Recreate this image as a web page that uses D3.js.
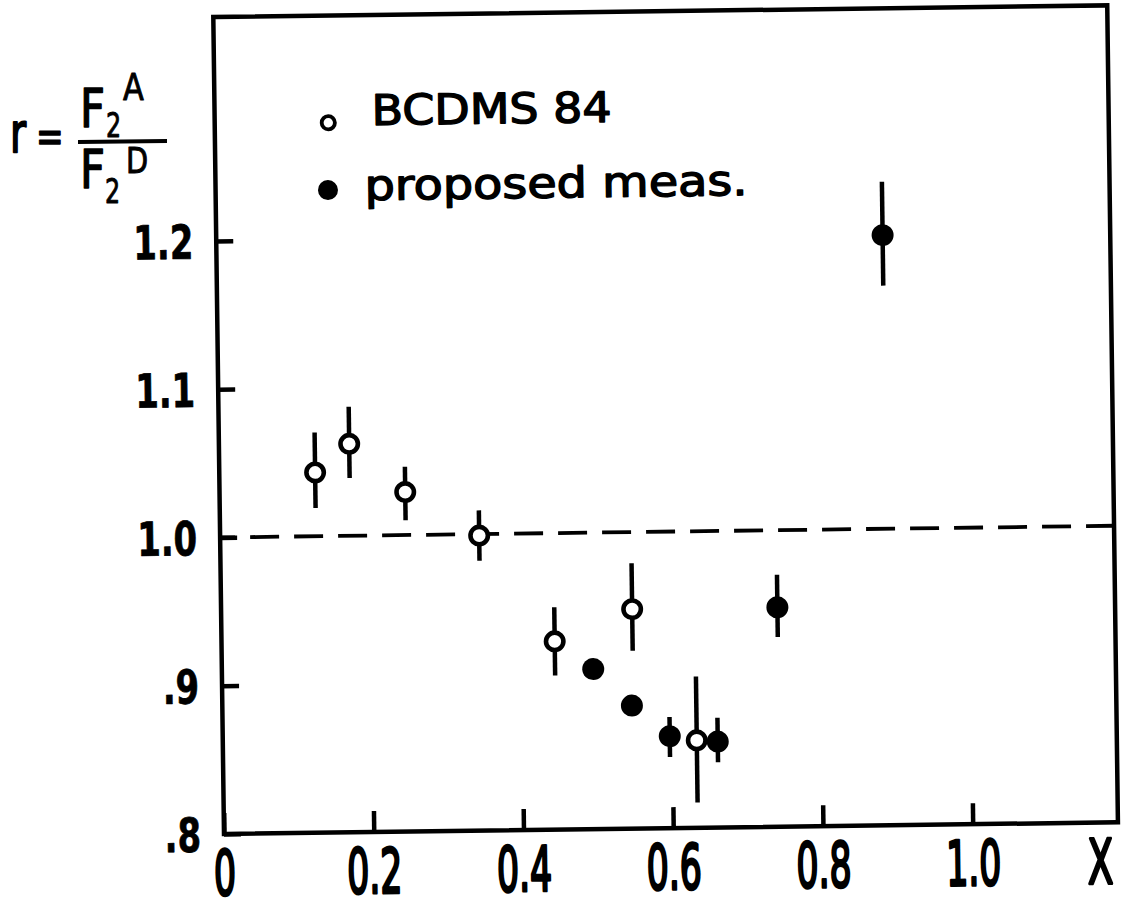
<!DOCTYPE html>
<html>
<head>
<meta charset="utf-8">
<script src="https://cdn.jsdelivr.net/npm/d3@7"></script>
<style>
  html, body { margin: 0; padding: 0; background: #fff; }
  svg { display: block; }
  text { font-family: "DejaVu Sans", sans-serif; fill: #000; }
</style>
</head>
<body>
<script>
// BCDMS 84 ratio measurements, r = F2(A)/F2(D)
const bcdmsX  = [0.128, 0.174, 0.248, 0.346, 0.445, 0.549, 0.633];
const bcdmsR  = [1.043, 1.062, 1.029, 0.999, 0.927, 0.948, 0.859];
const bcdmsLo = [1.019, 1.039, 1.010, 0.982, 0.904, 0.920, 0.817];
const bcdmsHi = [1.070, 1.087, 1.046, 1.016, 0.950, 0.979, 0.902];

// proposed measurement points (first two have errors smaller than the marker)
const propX  = [0.496, 0.547, 0.597, 0.661, 0.743, 0.890];
const propR  = [0.908, 0.883, 0.862, 0.858, 0.948, 1.198];
const propLo = [null, null, 0.848, 0.844, 0.928, 1.164];
const propHi = [null, null, 0.875, 0.874, 0.970, 1.234];

const xTicks = [0, 0.2, 0.4, 0.6, 0.8, 1.0];
const xTickLabels = ["0", "0.2", "0.4", "0.6", "0.8", "1.0"];
const yTicks = [0.8, 0.9, 1.0, 1.1, 1.2];
const yTickLabels = [".8", ".9", "1.0", "1.1", "1.2"];
const legendLabels = ["BCDMS 84", "proposed meas."];

const W = 1127, H = 915;
const svg = d3.select("body").append("svg")
  .attr("width", W).attr("height", H)
  .attr("viewBox", `0 0 ${W} ${H}`);
svg.append("rect").attr("width", W).attr("height", H).attr("fill", "#fff");

// plot frame, origin at the lower-left corner; the sheet sits slightly tilted
const plotW = 894, plotH = 817;
const g = svg.append("g").attr("transform", "translate(224,834) rotate(-0.75)");

const x = d3.scaleLinear().domain([0, 1.194]).range([0, plotW]);
const y = d3.scaleLinear().domain([0.8, 1.351]).range([0, -plotH]);

const LW = 4.5;

// heavier pen for the hand lettering
function pen(sel, w) {
  return sel.attr("stroke", "#000").attr("stroke-width", w).attr("stroke-linejoin", "round");
}

// reference line r = 1
g.append("line")
  .attr("x1", x(0)).attr("x2", x(1.194))
  .attr("y1", y(1.0)).attr("y2", y(1.0))
  .attr("stroke", "#000").attr("stroke-width", 3.8)
  .attr("stroke-dasharray", "29 15").attr("stroke-dashoffset", 14);

// y axis
const yAxis = d3.axisLeft(y)
  .tickValues(yTicks)
  .tickSizeInner(-17).tickSizeOuter(0)
  .tickFormat((d, i) => yTickLabels[i]);
const ya = g.append("g").call(yAxis);
ya.select(".domain").remove();
ya.selectAll(".tick line").attr("stroke", "#000").attr("stroke-width", LW);
ya.selectAll(".tick text")
  .attr("font-family", "DejaVu Sans, sans-serif")
  .attr("font-weight", "bold")
  .attr("font-size", 47)
  .attr("text-anchor", "end")
  .attr("x", -23 / 0.72)
  .attr("dy", "0.36em")
  .attr("transform", "scale(0.72,1)")
  .call(pen, 0.8);

// x axis
const xAxis = d3.axisBottom(x)
  .tickValues(xTicks)
  .tickSizeInner(-21).tickSizeOuter(0)
  .tickFormat((d, i) => xTickLabels[i]);
const xa = g.append("g").call(xAxis);
xa.select(".domain").remove();
xa.selectAll(".tick line").attr("stroke", "#000").attr("stroke-width", LW);
xa.selectAll(".tick text")
  .attr("font-family", "DejaVu Sans, sans-serif")
  .attr("font-size", 62)
  .attr("text-anchor", "middle")
  .attr("y", 61).attr("dy", 0)
  .attr("transform", "scale(0.56,1)")
  .call(pen, 3);

// frame
g.append("rect")
  .attr("x", x(0)).attr("y", y(1.351))
  .attr("width", x(1.194) - x(0)).attr("height", y(0.8) - y(1.351))
  .attr("fill", "none").attr("stroke", "#000").attr("stroke-width", LW);

// axis title X
g.append("text")
  .attr("transform", `translate(${x(1.17)},${61}) scale(0.6,1)`)
  .attr("text-anchor", "middle")
  .attr("font-size", 62)
  .call(pen, 3)
  .text("X");

// data
const bcdms = bcdmsX.map((v, i) => ({x: v, r: bcdmsR[i], lo: bcdmsLo[i], hi: bcdmsHi[i]}));
const prop = propX.map((v, i) => ({x: v, r: propR[i], lo: propLo[i], hi: propHi[i]}));

const bars = g.append("g").attr("stroke", "#000").attr("stroke-width", LW);
bars.selectAll("line.b").data(bcdms).join("line").attr("class", "b")
  .attr("x1", d => x(d.x)).attr("x2", d => x(d.x))
  .attr("y1", d => y(d.lo)).attr("y2", d => y(d.hi));
bars.selectAll("line.p").data(prop.filter(d => d.lo !== null)).join("line").attr("class", "p")
  .attr("x1", d => x(d.x)).attr("x2", d => x(d.x))
  .attr("y1", d => y(d.lo)).attr("y2", d => y(d.hi));

g.append("g").selectAll("circle").data(prop).join("circle")
  .attr("cx", d => x(d.x)).attr("cy", d => y(d.r))
  .attr("r", 11).attr("fill", "#000");

g.append("g").selectAll("circle").data(bcdms).join("circle")
  .attr("cx", d => x(d.x)).attr("cy", d => y(d.r))
  .attr("r", 8.7).attr("fill", "#fff")
  .attr("stroke", "#000").attr("stroke-width", 4.6);

// legend
const leg = g.append("g");
leg.append("circle").attr("cx", 113.6).attr("cy", -709.8).attr("r", 6.6)
  .attr("fill", "#fff").attr("stroke", "#000").attr("stroke-width", 3.8);
leg.append("circle").attr("cx", 112.4).attr("cy", -642.5).attr("r", 10)
  .attr("fill", "#000");
leg.append("text").attr("x", 157).attr("y", -707)
  .attr("font-size", 42)
  .attr("textLength", 240).attr("lengthAdjust", "spacingAndGlyphs")
  .call(pen, 1.4)
  .text(legendLabels[0]);
leg.append("text").attr("x", 149).attr("y", -632)
  .attr("font-size", 42)
  .attr("textLength", 383).attr("lengthAdjust", "spacingAndGlyphs")
  .call(pen, 1.4)
  .text(legendLabels[1]);

// y axis title: r = F2^A / F2^D
const t = svg.append("g");
t.append("text").attr("transform", "translate(10,152) scale(0.7,1)")
  .attr("font-size", 56).call(pen, 2).text("r");
t.append("text").attr("transform", "translate(36,152) scale(0.75,1)")
  .attr("font-size", 44).call(pen, 1.5).text("=");
t.append("line").attr("x1", 78).attr("x2", 167).attr("y1", 142).attr("y2", 141)
  .attr("stroke", "#000").attr("stroke-width", 4);
t.append("text").attr("transform", "translate(80,127) scale(0.82,1)")
  .attr("font-size", 53).call(pen, 1.5).text("F");
t.append("text").attr("transform", "translate(106,137) scale(0.7,1)")
  .attr("font-size", 34).call(pen, 1).text("2");
t.append("text").attr("transform", "translate(123,100) scale(0.8,1)")
  .attr("font-size", 38).call(pen, 1).text("A");
t.append("text").attr("transform", "translate(80,188) scale(0.82,1)")
  .attr("font-size", 53).call(pen, 1.5).text("F");
t.append("text").attr("transform", "translate(105,203) scale(0.7,1)")
  .attr("font-size", 34).call(pen, 1).text("2");
t.append("text").attr("transform", "translate(126,173) scale(0.8,1)")
  .attr("font-size", 36).call(pen, 1).text("D");
</script>
</body>
</html>
